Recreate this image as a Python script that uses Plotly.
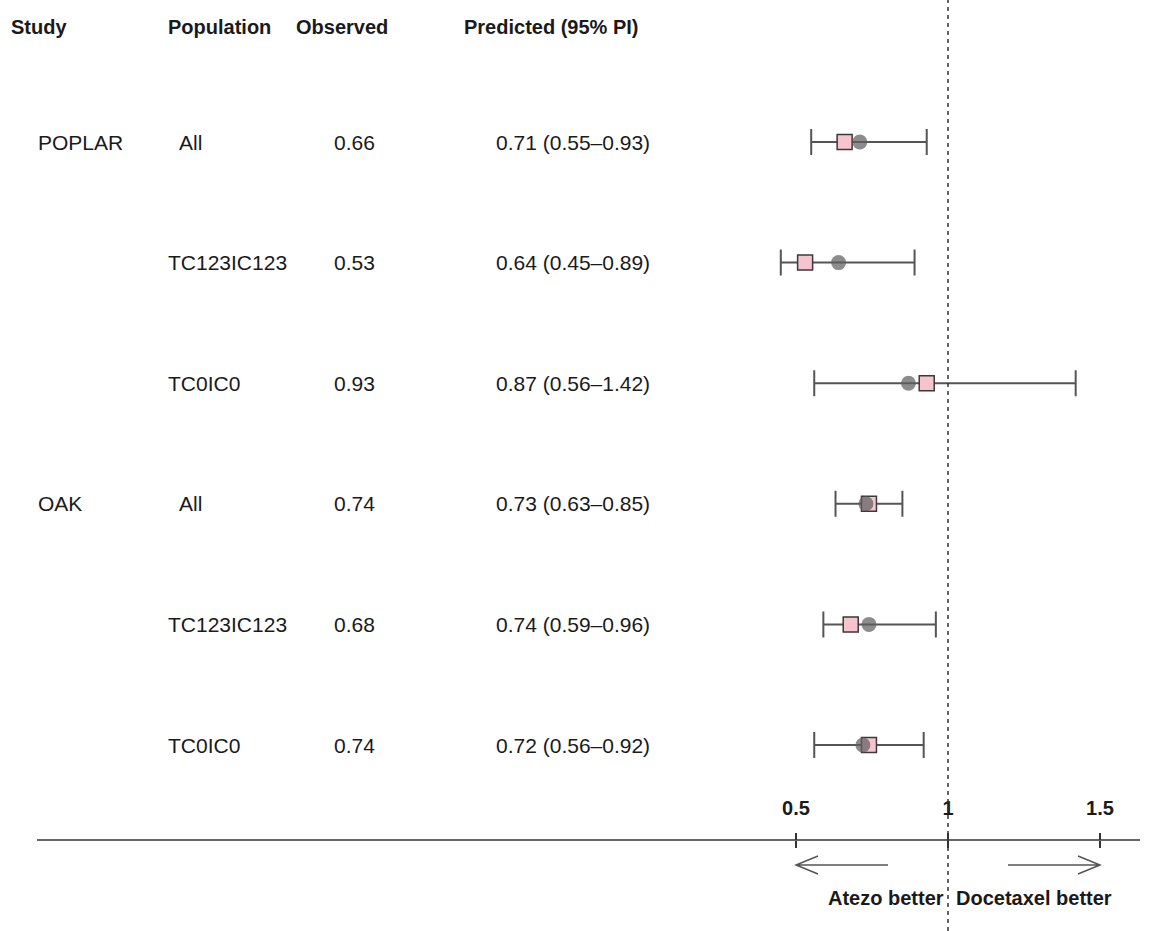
import plotly.graph_objects as go

# ---- data -------------------------------------------------------------
studies = ["POPLAR", "", "", "OAK", "", ""]
populations = ["All", "TC123IC123", "TC0IC0", "All", "TC123IC123", "TC0IC0"]
observed = [0.66, 0.53, 0.93, 0.74, 0.68, 0.74]
predicted = [0.71, 0.64, 0.87, 0.73, 0.74, 0.72]
pi_low = [0.55, 0.45, 0.56, 0.63, 0.59, 0.56]
pi_high = [0.93, 0.89, 1.42, 0.85, 0.96, 0.92]
tick_vals = [0.5, 1, 1.5]
tick_text = ["0.5", "1", "1.5"]
headers = ["Study", "Population", "Observed", "Predicted (95% PI)"]
left_label = "Atezo better"
right_label = "Docetaxel better"
ref_line = 1.0

# ---- layout constants -------------------------------------------------
W, H = 1153, 931
FONT = "Liberation Sans, Arial, sans-serif"
TXT = "#1a1a1a"
GREY = "#555555"
BODY_SIZE = 21
HEAD_SIZE = 20
rows = list(range(1, len(populations) + 1))

# x scale: 0.5 -> 796px, 1.0 -> 948px
px_per_unit = 304.0
x0_px = 796.0
x_range = [0.5 - x0_px / px_per_unit, 0.5 + (W - x0_px) / px_per_unit]
# y scale in row units: row 1 -> 142px, 120.6px per row
row_px = 120.6
row0_px = 142 - row_px
y_range = [(H - row0_px) / row_px, -row0_px / row_px]


def px_x(p):
    return p / W


def row_of(py):
    return (py - row0_px) / row_px


fig = go.Figure()

# prediction interval (drawn with the predicted point)
fig.add_trace(go.Scatter(
    x=predicted, y=rows, mode="markers",
    marker=dict(size=1, opacity=0),
    error_x=dict(type="data", symmetric=False,
                 array=[h - p for h, p in zip(pi_high, predicted)],
                 arrayminus=[p - l for p, l in zip(predicted, pi_low)],
                 color=GREY, thickness=2, width=13),
    hoverinfo="skip", showlegend=False))

# observed hazard ratios
fig.add_trace(go.Scatter(
    x=observed, y=rows, mode="markers",
    marker=dict(symbol="square", size=15, color="#f6c3cf",
                line=dict(color="#3a3a3a", width=1.5)),
    showlegend=False))

# predicted hazard ratios
fig.add_trace(go.Scatter(
    x=predicted, y=rows, mode="markers",
    marker=dict(symbol="circle", size=15, color="rgba(95,95,95,0.72)"),
    showlegend=False))

# ---- text columns -----------------------------------------------------
ann = []
header_x = [9, 166, 294, 462]
for h, hx in zip(headers, header_x):
    ann.append(dict(text=f"<b>{h}</b>", x=px_x(hx), xref="paper", y=row_of(27), yref="y",
                    xanchor="left", yanchor="middle", showarrow=False,
                    font=dict(family=FONT, size=HEAD_SIZE, color=TXT)))

for r, s, p, o, pr, lo, hi in zip(rows, studies, populations, observed, predicted, pi_low, pi_high):
    if s:
        ann.append(dict(text=s, x=px_x(36), xref="paper", y=r, yref="y",
                        xanchor="left", yanchor="middle", showarrow=False,
                        font=dict(family=FONT, size=BODY_SIZE, color=TXT)))
    ann.append(dict(text=p, x=px_x(166 if p != "All" else 177), xref="paper", y=r, yref="y",
                    xanchor="left", yanchor="middle", showarrow=False,
                    font=dict(family=FONT, size=BODY_SIZE, color=TXT)))
    ann.append(dict(text=f"{o:.2f}", x=px_x(332), xref="paper", y=r, yref="y",
                    xanchor="left", yanchor="middle", showarrow=False,
                    font=dict(family=FONT, size=BODY_SIZE, color=TXT)))
    ann.append(dict(text=f"{pr:.2f} ({lo:.2f}\u2013{hi:.2f})", x=px_x(652), xref="paper", y=r, yref="y",
                    xanchor="right", yanchor="middle", showarrow=False,
                    font=dict(family=FONT, size=BODY_SIZE, color=TXT)))

# direction labels under the axis
ann.append(dict(text=f"<b>{left_label}</b>", x=ref_line, xref="x", xshift=-2, y=row_of(898), yref="y",
                xanchor="right", yanchor="middle", showarrow=False,
                font=dict(family=FONT, size=HEAD_SIZE, color=TXT)))
ann.append(dict(text=f"<b>{right_label}</b>", x=ref_line, xref="x", xshift=6, y=row_of(898), yref="y",
                xanchor="left", yanchor="middle", showarrow=False,
                font=dict(family=FONT, size=HEAD_SIZE, color=TXT)))

# ---- shapes: reference line, axis line, direction arrows ---------------
axis_y = 1 - 840 / H
shapes = [
    dict(type="line", xref="x", x0=ref_line, x1=ref_line, yref="paper", y0=0, y1=1,
         line=dict(color="#333333", width=1.5, dash="4px,4px")),
    dict(type="line", xref="paper", x0=px_x(37), x1=px_x(1140), yref="paper", y0=axis_y, y1=axis_y,
         line=dict(color="#333333", width=1.5)),
]
arrow_y = row_of(865)
head_dx = 22 / px_per_unit
head_dy = 9 / row_px
left_start = tick_vals[0] + 92 / px_per_unit
right_start = tick_vals[2] - 92 / px_per_unit
shapes.append(dict(type="path", xref="x", yref="y",
                   path=(f"M{left_start},{arrow_y} L{tick_vals[0]},{arrow_y} "
                         f"M{tick_vals[0] + head_dx},{arrow_y - head_dy} L{tick_vals[0]},{arrow_y} "
                         f"L{tick_vals[0] + head_dx},{arrow_y + head_dy}"),
                   line=dict(color=GREY, width=1.5)))
shapes.append(dict(type="path", xref="x", yref="y",
                   path=(f"M{right_start},{arrow_y} L{tick_vals[2]},{arrow_y} "
                         f"M{tick_vals[2] - head_dx},{arrow_y - head_dy} L{tick_vals[2]},{arrow_y} "
                         f"L{tick_vals[2] - head_dx},{arrow_y + head_dy}"),
                   line=dict(color=GREY, width=1.5)))

fig.update_layout(
    width=W, height=H,
    margin=dict(l=0, r=0, t=0, b=0),
    plot_bgcolor="white", paper_bgcolor="white",
    annotations=ann, shapes=shapes,
    xaxis=dict(range=x_range, domain=[0, 1], anchor="free", position=axis_y, side="top",
               tickmode="array", tickvals=tick_vals, ticktext=tick_text,
               ticks="outside", ticklen=7, tickwidth=1.5, tickcolor="#333333",
               ticklabelstandoff=10,
               tickfont=dict(family=FONT, size=HEAD_SIZE, color=TXT, weight="bold"),
               showgrid=False, zeroline=False, showline=False, fixedrange=True),
    xaxis2=dict(overlaying="x", matches="x", anchor="free", position=axis_y, side="bottom",
                tickmode="array", tickvals=tick_vals, showticklabels=False,
                ticks="outside", ticklen=7, tickwidth=1.5, tickcolor="#333333",
                showgrid=False, zeroline=False, showline=False),
    yaxis=dict(range=y_range, domain=[0, 1], visible=False, fixedrange=True),
)
# empty trace so the lower tick set is rendered
fig.add_trace(go.Scatter(x=[tick_vals[1]], y=[rows[0]], xaxis="x2", mode="markers",
                         marker=dict(opacity=0), hoverinfo="skip", showlegend=False))

fig.write_html("out.html")
